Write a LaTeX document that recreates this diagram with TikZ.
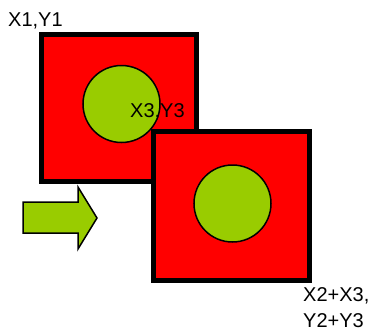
\documentclass[tikz,border=0pt]{standalone}
\usepackage{fontspec}
\setmainfont{Liberation Sans}
\definecolor{boxred}{HTML}{FF0000}
\definecolor{leaf}{HTML}{99CC00}
\begin{document}
\begin{tikzpicture}[x=1pt,y=-1pt,
  sq/.style={draw=black,fill=boxred,line width=5pt,line join=miter},
  disc/.style={draw=black,fill=leaf,line width=1.5pt},
  lbl/.style={inner sep=0pt,anchor=base west,font=\fontsize{20}{26}\selectfont}]
\useasboundingbox (0,0) rectangle (373,330);
% first square
\path[sq] (41.5,34.5) rectangle (196.5,181.5);
\node[disc,circle,minimum size=77pt,inner sep=0pt] (c1) at (121.5,104) {};
\node[lbl] (l3) at (130,117) {X3,Y3};
% second square
\path[sq] (153.5,131.5) rectangle (309.5,280.5);
\node[disc,circle,minimum size=77pt,inner sep=0pt] (c2) at (232.5,203.5) {};
% arrow
\draw[disc,line join=miter] (23,202) -- (78,202) -- (78,187) -- (97,218) -- (78,249) -- (78,233) -- (23,233) -- cycle;
% labels
\node[lbl] (l1) at (8,26) {X1,Y1};
\node[lbl] (l2a) at (303,301) {X2+X3,};
\node[lbl] (l2b) at (303,327) {Y2+Y3};
\end{tikzpicture}
\end{document}
